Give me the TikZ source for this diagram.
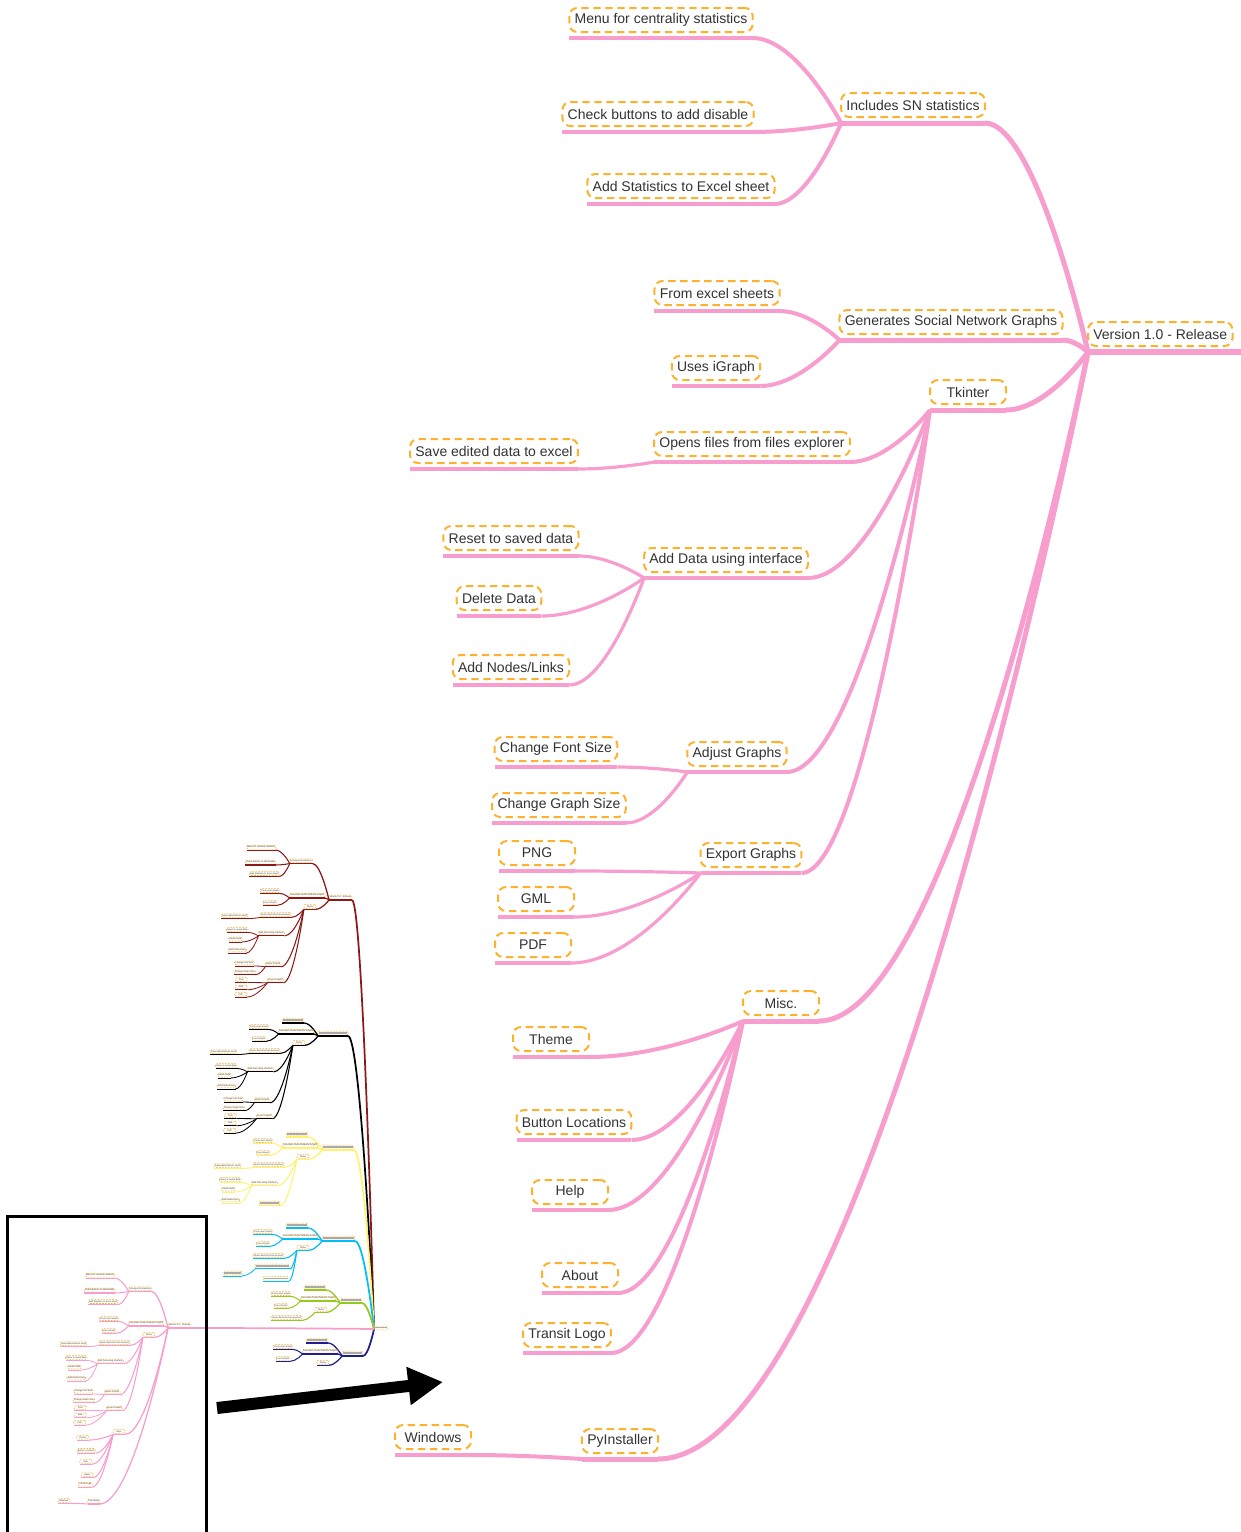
\documentclass[tikz,border=0pt]{standalone}
\usepackage{fontspec}
\setmainfont{Liberation Sans}
\usetikzlibrary{calc,arrows.meta}
\definecolor{pinkc}{RGB}{247,158,206}
\definecolor{dashc}{RGB}{252,178,45}
\definecolor{textc}{RGB}{50,50,50}
\definecolor{barc}{RGB}{170,170,170}
\definecolor{maroonc}{RGB}{140,24,24}
\definecolor{yellowc}{RGB}{255,242,110}
\definecolor{cyanc}{RGB}{0,190,250}
\definecolor{greenc}{RGB}{150,200,30}
\definecolor{navyc}{RGB}{30,30,145}
\colorlet{brc}{pinkc}

\newcommand\gbar[1]{{\color{barc}\rule[0.1em]{#1}{0.5em}}}
\newcommand\mknode[4]{\node[mbox] (#1) at (#2,#3) {#4};}
\newcommand\mkul[2]{\draw[#1] ([yshift=-4.5pt]#2.south west) -- ([yshift=-4.5pt]#2.south east);}
\newcommand\mkcn[3]{\draw[#1] let \p1=([yshift=-4.5pt]#2.south east), \p2=([yshift=-4.5pt]#3.south west) in (\p1) .. controls ({0.5*(\x1+\x2)},\y1) and (\p2) .. (\p2);}
\newcommand\mkleaf[6]{\mknode{#2}{#4}{#5}{#6}\mkul{#1}{#2}\mkcn{#1}{#2}{#3}}
\newcommand\mapRoot[2]{\node[mbox, anchor=west, minimum width=#2] (root) at (1088,334) {#1};}
\newcommand\rootExt{\coordinate (rootul) at ([yshift=-4.5pt]root.south west); \coordinate (rootend) at (1242,0); \draw[l0] (rootul) -- (rootul -| rootend);}
\newcommand\rootPlain{\mkul{l0}{root}}
\newcommand\subSN{\mkleaf{l1}{sn}{root}{913}{105}{Includes SN statistics}
 \mkleaf{l2}{menu}{sn}{661}{20}{Menu for centrality statistics}
 \mkleaf{l2}{check}{sn}{658}{114}{Check buttons to add disable}
 \mkleaf{l2}{addstat}{sn}{681}{186}{Add Statistics to Excel sheet}}
\newcommand\subGen{\mkleaf{l1}{gen}{root}{951}{322}{Generates Social Network Graphs}
 \mkleaf{l2}{fromxl}{gen}{717}{293}{From excel sheets}
 \mkleaf{l2}{igraph}{gen}{716}{368}{Uses iGraph}}
\newcommand\tkNode{\mkleaf{l1}{tk}{root}{968}{392}{Tkinter}}
\newcommand\tkOpens{\mkleaf{l2}{opens}{tk}{752}{444}{Opens files from files explorer}}
\newcommand\tkSave{\mkleaf{l3}{saveed}{opens}{494}{451}{Save edited data to excel}}
\newcommand\tkAdd{\mkleaf{l2}{adddata}{tk}{726}{560}{Add Data using interface}
 \mkleaf{l3}{reset}{adddata}{511}{538}{Reset to saved data}
 \mkleaf{l3}{delete}{adddata}{499}{598}{Delete Data}
 \mkleaf{l3}{addnodes}{adddata}{511}{667}{Add Nodes/Links}}
\newcommand\tkAdjust{\mkleaf{l2}{adjust}{tk}{737}{754}{Adjust Graphs}
 \mkleaf{l3}{fontsz}{adjust}{556}{749}{Change Font Size}
 \mkleaf{l3}{gsize}{adjust}{559}{805}{Change Graph Size}}
\newcommand\tkExport{\mkleaf{l2}{export}{tk}{751}{855}{Export Graphs}
 \mkleaf{l3}{png}{export}{537}{853}{PNG}
 \mkleaf{l3}{gml}{export}{536}{899}{GML}
 \mkleaf{l3}{pdf}{export}{533}{945}{PDF}}
\newcommand\subMisc{\mkleaf{l1}{misc}{root}{781}{1003}{Misc.}
 \mkleaf{l2}{theme}{misc}{551}{1039}{Theme}
 \mkleaf{l2}{btnloc}{misc}{574}{1122}{Button Locations}
 \mkleaf{l2}{help}{misc}{570}{1192}{Help}
 \mkleaf{l2}{about}{misc}{580}{1275}{About}
 \mkleaf{l2}{logo}{misc}{567}{1335}{Transit Logo}}
\newcommand\subPy{\mkleaf{l1}{py}{root}{620}{1441}{PyInstaller}
 \mkleaf{l2}{windows}{py}{433}{1437}{Windows}}
\newcommand\subB{\mkleaf{l1}{bb}{root}{931}{252}{\gbar{95pt}}}
\newcommand\hubcn[2]{\draw[line width=1.3pt, draw=#1] let \p1=(#2), \p2=(hubin) in (\p1) .. controls ({0.5*(\x1+\x2)},\y1) and (\p2) .. (\p2);}

\begin{document}
\begin{tikzpicture}[x=0.75pt,y=-0.75pt,
 boxlook/.style={line width=1.5pt, dash pattern=on 5.5pt off 3.5pt},
 mbox/.style={boxlook, draw=dashc, rounded corners=6pt, minimum height=18pt, minimum width=57pt, inner xsep=4pt, inner ysep=1pt, outer sep=0pt, font=\fontsize{10.5}{12}\selectfont, text=textc},
 l0/.style={draw=brc, line width=4.5pt},
 l1/.style={draw=brc, line width=3.75pt},
 l2/.style={draw=brc, line width=3pt},
 l3/.style={draw=brc, line width=2.4pt},
 thumb/.style={l0/.style={draw=brc, line width=7pt}, l1/.style={draw=brc, line width=6pt}, l2/.style={draw=brc, line width=5pt}, l3/.style={draw=brc, line width=4pt}, boxlook/.style={line width=2.5pt, dash pattern=on 8pt off 6pt}}]
\useasboundingbox (0,0) rectangle (1240,1532);

% ---- main map
\mapRoot{Version 1.0 - Release}{57pt}\rootExt
\subSN\subGen\tkNode\tkOpens\tkSave\tkAdd\tkAdjust\tkExport\subMisc\subPy

% ---- thumbnails
\begin{scope}[thumb, transform canvas={shift={(-5,1272)},scale=0.159}, name prefix=pk-]
 \mapRoot{Version 1.0 - Release}{57pt}\rootExt
 \subSN\subGen\tkNode\tkOpens\tkSave\tkAdd\tkAdjust\tkExport\subMisc\subPy
\end{scope}
\begin{scope}[thumb, transform canvas={shift={(156,844)},scale=0.159}, name prefix=mr-]
 \colorlet{brc}{maroonc}
 \mapRoot{Version 1.0 - Release}{57pt}\rootPlain
 \subSN\subGen\tkNode\tkOpens\tkSave\tkAdd\tkAdjust\tkExport
\end{scope}
\begin{scope}[thumb, transform canvas={shift={(145,980)},scale=0.159}, name prefix=bk-]
 \colorlet{brc}{black}
 \mapRoot{\gbar{133.5pt}}{57pt}\rootPlain
 \subB\subGen\tkNode\tkOpens\tkSave\tkAdd\tkAdjust\tkExport
\end{scope}
\begin{scope}[thumb, transform canvas={shift={(149,1094)},scale=0.159}, name prefix=yw-]
 \colorlet{brc}{yellowc}
 \mapRoot{\gbar{142.5pt}}{57pt}\rootPlain
 \subB\subGen\tkNode\tkOpens\tkSave\tkAdd
 \mkleaf{l2}{ww}{tk}{758}{686}{\gbar{91pt}}
\end{scope}
\begin{scope}[thumb, transform canvas={shift={(149,1185)},scale=0.159}, name prefix=cy-]
 \colorlet{brc}{cyanc}
 \mapRoot{\gbar{147.75pt}}{57pt}\rootPlain
 \subB\subGen\tkNode\tkOpens
 \mkleaf{l2}{xx}{tk}{777}{510}{\gbar{157pt}}
 \mkleaf{l3}{yy}{xx}{525}{554}{\gbar{82pt}}
 \mkleaf{l2}{zz}{tk}{799}{586}{\gbar{115pt}}
\end{scope}
\begin{scope}[thumb, transform canvas={shift={(167,1247)},scale=0.159}, name prefix=gn-]
 \colorlet{brc}{greenc}
 \mapRoot{\gbar{95pt}}{57pt}\rootPlain
 \subB\subGen\tkNode\tkOpens
\end{scope}
\begin{scope}[thumb, transform canvas={shift={(169,1300)},scale=0.159}, name prefix=nv-]
 \colorlet{brc}{navyc}
 \mapRoot{\gbar{90.75pt}}{57pt}\rootPlain
 \subB\subGen\tkNode
\end{scope}

% ---- hub and links from thumbnails
\coordinate (hubin) at (374,1329);
\coordinate (pkE) at (192,1328);
\coordinate (mrE) at (352,900);
\coordinate (bkE) at (348,1036);
\coordinate (ywE) at (354,1150);
\coordinate (cyE) at (355,1241);
\coordinate (gnE) at (362,1303);
\coordinate (nvE) at (363,1356);
\hubcn{maroonc}{mrE}
\hubcn{black}{bkE}
\hubcn{yellowc}{ywE}
\hubcn{cyanc}{cyE}
\hubcn{greenc}{gnE}
\hubcn{navyc}{nvE}
\hubcn{pinkc}{pkE}
\begin{scope}[thumb, transform canvas={shift={(380,1328)},scale=0.159}, name prefix=hub-]
 \node[mbox] (center) at (0,0) {\gbar{67pt}};
\end{scope}

% ---- frame and arrow
\coordinate (frA) at (7.5,1540);
\coordinate (frB) at (7.5,1216);
\coordinate (frC) at (206,1216);
\coordinate (frD) at (206,1540);
\draw[line width=2.25pt] (frA) -- (frB) -- (frC) -- (frD);
\coordinate (arrS) at (217,1408);
\coordinate (arrE) at (443,1382);
\draw[line width=9pt, -{Triangle[length=26pt,width=27pt]}] (arrS) -- (arrE);
\end{tikzpicture}
\end{document}
